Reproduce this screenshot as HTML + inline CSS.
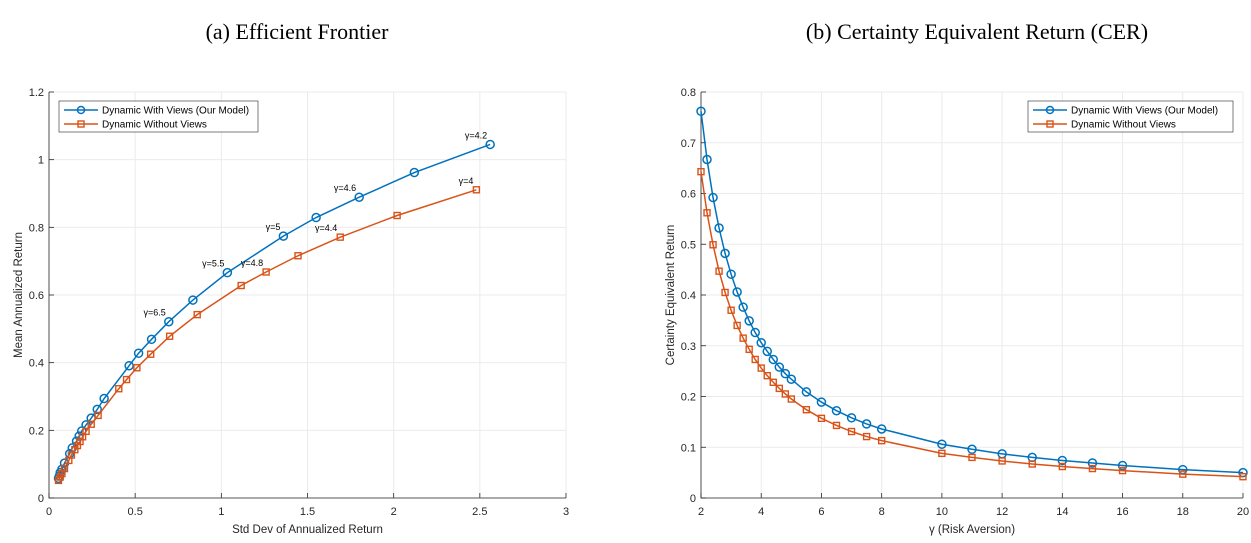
<!DOCTYPE html>
<html><head><meta charset="utf-8"><style>
body{margin:0;background:#fff;}
svg{display:block;font-family:"Liberation Sans",sans-serif;}
.t{font-family:"Liberation Serif",serif;font-size:22px;fill:#000;}
.tick{font-size:11px;fill:#262626;}
.lab{font-size:11.5px;fill:#262626;}
.leg{font-size:10px;fill:#000;}
.ann{font-size:9px;fill:#000;}
</style></head><body>
<svg id="s" width="1251" height="543">
<text class="t" x="297" y="39" text-anchor="middle">(a) Efficient Frontier</text>
<text class="t" x="977" y="39" text-anchor="middle">(b) Certainty Equivalent Return (CER)</text>
<g id="L"></g>
<g id="R"></g>
</svg>
<script>
// Left chart data
const blueStd=[2.56,2.12,1.80,1.55,1.36,1.035,0.835,0.695,0.595,0.52,0.465,0.32,0.28,0.245,0.215,0.19,0.175,0.16,0.135,0.12,0.09,0.075,0.065,0.06,0.055];
const blueMean=[1.045,0.962,0.889,0.829,0.774,0.666,0.585,0.521,0.469,0.428,0.391,0.294,0.262,0.236,0.216,0.198,0.183,0.168,0.148,0.131,0.103,0.085,0.075,0.065,0.058];
const orgStd=[2.48,2.02,1.69,1.445,1.26,1.115,0.86,0.70,0.59,0.51,0.45,0.405,0.285,0.245,0.215,0.195,0.18,0.165,0.15,0.13,0.115,0.09,0.075,0.065,0.055];
const orgMean=[0.911,0.835,0.771,0.716,0.668,0.628,0.542,0.478,0.425,0.385,0.35,0.323,0.244,0.218,0.197,0.181,0.167,0.155,0.143,0.127,0.111,0.087,0.072,0.062,0.052];
const blueAnnIdx=[0,2,4,5,7];
const blueAnnTxt=["γ=4.2","γ=4.6","γ=5","γ=5.5","γ=6.5"];
const orgAnnIdx=[0,2,4];
const orgAnnTxt=["γ=4","γ=4.4","γ=4.8"];
const leftXTicks=[0,0.5,1,1.5,2,2.5,3];
const leftXTickLabels=["0","0.5","1","1.5","2","2.5","3"];
const leftYTicks=[0,0.2,0.4,0.6,0.8,1,1.2];
const leftYTickLabels=["0","0.2","0.4","0.6","0.8","1","1.2"];
// Right chart data
const gammas=[2,2.2,2.4,2.6,2.8,3,3.2,3.4,3.6,3.8,4,4.2,4.4,4.6,4.8,5,5.5,6,6.5,7,7.5,8,10,11,12,13,14,15,16,18,20];
const cerBlue=[0.762,0.667,0.592,0.532,0.482,0.441,0.406,0.376,0.349,0.326,0.306,0.289,0.273,0.258,0.245,0.234,0.209,0.189,0.172,0.158,0.146,0.136,0.106,0.096,0.087,0.080,0.074,0.069,0.064,0.056,0.050];
const cerOrg=[0.643,0.562,0.499,0.447,0.405,0.370,0.340,0.315,0.293,0.273,0.256,0.241,0.228,0.216,0.205,0.195,0.174,0.157,0.143,0.131,0.121,0.113,0.088,0.080,0.073,0.067,0.062,0.058,0.054,0.047,0.042];
const rightXTicks=[2,4,6,8,10,12,14,16,18,20];
const rightXTickLabels=["2","4","6","8","10","12","14","16","18","20"];
const rightYTicks=[0,0.1,0.2,0.3,0.4,0.5,0.6,0.7,0.8];
const rightYTickLabels=["0","0.1","0.2","0.3","0.4","0.5","0.6","0.7","0.8"];

const NS="http://www.w3.org/2000/svg";
const BLUE="#0072BD",ORG="#D95319";
function mk(p,tag,a,txt){const e=document.createElementNS(NS,tag);for(const k in a)e.setAttribute(k,a[k]);if(txt!==undefined)e.textContent=txt;p.appendChild(e);return e;}

function axes(g,box,xd,yd,xt,xtl,yt,ytl,xlab,ylab,pre){
  const [x0,y0,x1,y1]=box;
  const sx=v=>x0+(v-xd[0])/(xd[1]-xd[0])*(x1-x0);
  const sy=v=>y1-(v-yd[0])/(yd[1]-yd[0])*(y1-y0);
  mk(g,'rect',{x:x0,y:y0,width:x1-x0,height:y1-y0,fill:'#fff'});
  xt.forEach((v,i)=>{
    const l=mk(g,'line',{x1:sx(v),x2:sx(v),y1:y0,y2:y1,stroke:'#ebebeb','stroke-width':1});
    
    
    const tk=mk(g,'line',{x1:sx(v),x2:sx(v),y1:y1,y2:y1-5,stroke:'#262626','stroke-width':0.8});
    
    
    const t=mk(g,'text',{x:sx(v),y:y1+17,class:'tick','text-anchor':'middle'},xtl[i]);
    
    
  });
  yt.forEach((v,i)=>{
    const l=mk(g,'line',{x1:x0,x2:x1,y1:sy(v),y2:sy(v),stroke:'#ebebeb','stroke-width':1});
    
    
    const tk=mk(g,'line',{x1:x0,x2:x0+5,y1:sy(v),y2:sy(v),stroke:'#262626','stroke-width':0.8});
    
    
    const t=mk(g,'text',{x:x0-5,y:sy(v)+4,class:'tick','text-anchor':'end'},ytl[i]);
    
    
  });
  const ax=mk(g,'path',{d:`M${x0},${y0}V${y1}H${x1}`,fill:'none',stroke:'#262626','stroke-width':0.8});
  
  
  const xl=mk(g,'text',{x:(x0+x1)/2,y:y1+35,class:'lab','text-anchor':'middle'},xlab);
  
  
  const yl=mk(g,'text',{x:0,y:0,class:'lab','text-anchor':'middle',transform:`translate(${x0-27},${(y0+y1)/2}) rotate(-90)`},ylab);
  
  
  return [sx,sy];
}
function series(g,xs,ys,sx,sy,col,marker,name){
  const pts=xs.map((v,i)=>sx(v)+','+sy(ys[i])).join(' ');
  const pl=mk(g,'polyline',{points:pts,fill:'none',stroke:col,'stroke-width':1.5});
  
  
  xs.forEach((v,i)=>{
    let m;
    if(marker==='o') m=mk(g,'circle',{cx:sx(v),cy:sy(ys[i]),r:4,fill:'none',stroke:col,'stroke-width':1.5});
    else m=mk(g,'rect',{x:sx(v)-3,y:sy(ys[i])-3,width:6,height:6,fill:'none',stroke:col,'stroke-width':1.4});
    
    
  });
}
function legend(g,x,y,w,pre){
  const r=mk(g,'rect',{x:x,y:y,width:w,height:31,fill:'#fff',stroke:'#262626','stroke-width':0.6});
  
  
  [[BLUE,'o','Dynamic With Views (Our Model)'],[ORG,'s','Dynamic Without Views']].forEach((d,i)=>{
    const yy=y+9+i*14;
    mk(g,'line',{x1:x+5,x2:x+39,y1:yy,y2:yy,stroke:d[0],'stroke-width':1.5});
    if(d[1]==='o')mk(g,'circle',{cx:x+22,cy:yy,r:3.5,fill:'none',stroke:d[0],'stroke-width':1.5});
    else mk(g,'rect',{x:x+19,y:yy-3,width:6,height:6,fill:'none',stroke:d[0],'stroke-width':1.4});
    const t=mk(g,'text',{x:x+43,y:yy+3.5,class:'leg'},d[2]);
    
    
  });
}
const L=document.getElementById('L');
const [lx,ly]=axes(L,[49,92,566,498],[0,3],[0,1.2],leftXTicks,leftXTickLabels,leftYTicks,leftYTickLabels,'Std Dev of Annualized Return','Mean Annualized Return','left-');
series(L,blueStd,blueMean,lx,ly,BLUE,'o','left-with-views');
series(L,orgStd,orgMean,lx,ly,ORG,'s','left-without-views');
blueAnnIdx.forEach((k,i)=>{
  const t=mk(L,'text',{x:lx(blueStd[k])-3,y:ly(blueMean[k])-6,class:'ann','text-anchor':'end'},blueAnnTxt[i]);
  
  
});
orgAnnIdx.forEach((k,i)=>{
  const t=mk(L,'text',{x:lx(orgStd[k])-3,y:ly(orgMean[k])-6,class:'ann','text-anchor':'end'},orgAnnTxt[i]);
  
  
});
legend(L,59,101,199,'left-');
const R=document.getElementById('R');
const [rx,ry]=axes(R,[701,92,1243,498],[2,20],[0,0.8],rightXTicks,rightXTickLabels,rightYTicks,rightYTickLabels,'γ (Risk Aversion)','Certainty Equivalent Return','right-');
series(R,gammas,cerBlue,rx,ry,BLUE,'o','right-with-views');
series(R,gammas,cerOrg,rx,ry,ORG,'s','right-without-views');
legend(R,1028,101,205,'right-');
</script>
</body></html>
